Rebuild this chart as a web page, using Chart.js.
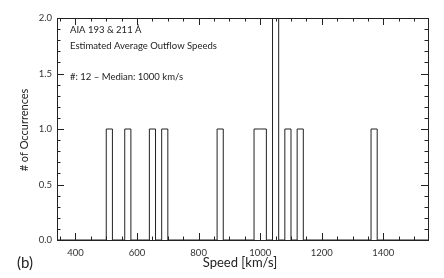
<!DOCTYPE html>
<html>
<head>
<meta charset="utf-8">
<script src="https://cdn.jsdelivr.net/npm/chart.js@4.4.0/dist/chart.umd.min.js"></script>
<style>
  html, body { margin: 0; padding: 0; background: #fff; }
  #wrap { width: 444px; height: 278px; }
</style>
</head>
<body>
<div id="wrap"><canvas id="canvas"></canvas></div>
<script>
    // histogram bins (left edge, km/s) and counts
    var binStarts = [500, 560, 640, 680, 860, 980, 1000, 1040, 1080, 1120, 1360];
    var binCounts = [1, 1, 1, 1, 1, 1, 1, 2, 1, 1, 1];
    var binWidth = 20;

    var xRange = [340, 1545];
    var yRange = [0, 2];
    var xTicks = [400, 600, 800, 1000, 1200, 1400];
    var yTicks = [0, 0.5, 1.0, 1.5, 2.0];
    var xMinorStep = 50;
    var yMinorStep = 0.1;

    var notes = ['AIA 193 & 211 \u00C5', 'Estimated Average Outflow Speeds', '', '#: 12 \u2013 Median: 1000 km/s'];

    var font = 'Lato, "Open Sans", sans-serif';
    var ink = '#222';

    // outline of the histogram as a stepped line
    function stepPoints() {
        var pts = [{x: xRange[0], y: 0}];
        for (var i = 0; i < binStarts.length; i++) {
            var end = binStarts[i] + binWidth;
            pts.push({x: binStarts[i], y: binCounts[i]});
            if (i == binStarts.length - 1 || binStarts[i + 1] != end) {
                pts.push({x: end, y: 0});
            }
        }
        pts.push({x: xRange[1], y: 0});
        return pts;
    }

    // IDL style frame: inward ticks on all four sides, plus the text
    var framePlugin = {
        id: 'frame',
        afterDraw: function (chart) {
            var ctx = chart.ctx;
            var a = chart.chartArea;
            var xs = chart.scales.x, ys = chart.scales.y;
            ctx.save();
            ctx.strokeStyle = ink;
            ctx.lineWidth = 1;
            ctx.strokeRect(a.left + 0.5, a.top + 0.5, a.right - a.left, a.bottom - a.top);

            ctx.beginPath();
            var v, p;
            for (v = Math.ceil(xRange[0] / xMinorStep) * xMinorStep; v <= xRange[1]; v += xMinorStep) {
                p = Math.round(xs.getPixelForValue(v)) + 0.5;
                var len = (v % 200 == 0) ? 7 : 3.5;
                ctx.moveTo(p, a.bottom); ctx.lineTo(p, a.bottom - len);
                ctx.moveTo(p, a.top); ctx.lineTo(p, a.top + len);
            }
            for (var k = 0; k <= 20; k++) {
                v = yRange[0] + k * yMinorStep;
                p = Math.round(ys.getPixelForValue(v)) + 0.5;
                var ylen = (k % 5 == 0) ? 7 : 3.5;
                ctx.moveTo(a.left, p); ctx.lineTo(a.left + ylen, p);
                ctx.moveTo(a.right, p); ctx.lineTo(a.right - ylen, p);
            }
            ctx.stroke();

            ctx.fillStyle = ink;
            ctx.textBaseline = 'middle';
            ctx.font = '9.5px ' + font;
            ctx.textAlign = 'left';
            for (var i = 0; i < notes.length; i++) {
                ctx.fillText(notes[i], a.left + 13, a.top + 12 + i * 15.5);
            }

            ctx.font = '13px ' + font;
            ctx.textAlign = 'center';
            ctx.fillText('Speed [km/s]', 240, 263);
            ctx.save();
            ctx.font = '11px ' + font;
            ctx.translate(24, 130);
            ctx.rotate(-Math.PI / 2);
            ctx.fillText('# of Occurrences', 0, 0);
            ctx.restore();

            ctx.font = '15px ' + font;
            ctx.textAlign = 'left';
            ctx.fillText('(b)', 17, 263);
            ctx.restore();
        }
    };

    var ctx = document.getElementById('canvas').getContext('2d');
    var myChart = new Chart(ctx, {
        type: 'line',
        data: {
            datasets: [{
                data: stepPoints(),
                stepped: 'before',
                borderColor: ink,
                borderWidth: 1,
                pointRadius: 0,
                fill: false
            }]
        },
        options: {
            responsive: true,
            maintainAspectRatio: false,
            animation: false,
            layout: { padding: { left: 0, right: 16, top: 18, bottom: 0 } },
            plugins: { legend: { display: false }, tooltip: { enabled: false } },
            scales: {
                x: {
                    type: 'linear',
                    min: xRange[0],
                    max: xRange[1],
                    grid: { display: false, drawTicks: false },
                    border: { display: false },
                    afterBuildTicks: function (scale) {
                        scale.ticks = xTicks.map(function (t) { return {value: t}; });
                    },
                    afterFit: function (scale) { scale.height = 38; },
                    ticks: {
                        padding: 7,
                        maxRotation: 0,
                        color: '#333',
                        font: { family: font, size: 9.5 },
                        callback: function (v) { return String(v); }
                    }
                },
                y: {
                    min: yRange[0],
                    max: yRange[1],
                    grid: { display: false, drawTicks: false },
                    border: { display: false },
                    afterBuildTicks: function (scale) {
                        scale.ticks = yTicks.map(function (t) { return {value: t}; });
                    },
                    afterFit: function (scale) { scale.width = 57; },
                    ticks: {
                        padding: 5,
                        color: '#333',
                        font: { family: font, size: 9.5 },
                        callback: function (v) { return Number(v).toFixed(1); }
                    }
                }
            }
        },
        plugins: [framePlugin]
    });
</script>
</body>
</html>
